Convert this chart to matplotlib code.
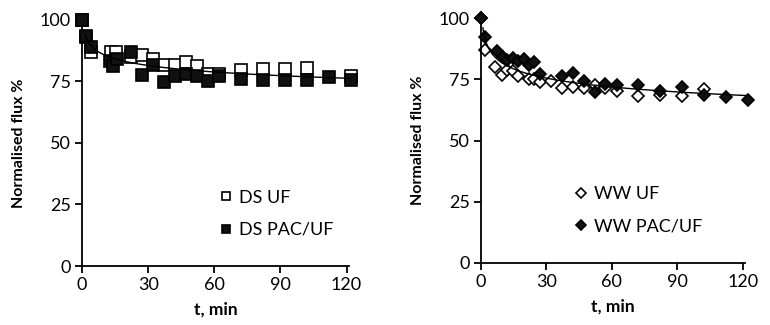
import numpy as np
import matplotlib.pyplot as plt

plt.rcParams['font.family'] = ['Lato', 'DejaVu Sans']

# DS feed: time (min) and normalised flux (%)
ds_uf_t = [0, 2, 4, 13, 15.5, 22, 27, 32, 37, 42, 47, 52, 57, 62, 72, 82, 92, 102, 122]
ds_uf_y = [100, 93, 87, 87, 87, 84.8, 85.8, 84, 81.7, 81.7, 82.6, 81, 78, 78, 79.7, 80, 80, 80.4, 77.2]
ds_pac_t = [0, 2, 4, 12.5, 14, 16, 22, 27, 32, 37, 42, 47, 52, 57, 62, 72, 82, 92, 102, 112, 122]
ds_pac_y = [100, 93.5, 89, 83, 81, 84, 86.7, 77.6, 81.7, 74.6, 77, 78, 77, 75, 77.2, 75.9, 75.6, 75.6, 75.6, 76.7, 75.6]

# WW feed
ww_uf_t = [0, 2, 6.5, 9.6, 12, 14.6, 17.2, 22, 24.5, 27.3, 32.2, 37.2, 42.3, 47.5, 52.2, 57.1, 62.2, 72.2, 82.1, 92, 102.3]
ww_uf_y = [100, 87, 80, 76.7, 78.7, 78.5, 76.3, 75, 75, 74, 74.4, 71.7, 72, 71.7, 72.7, 71.7, 70.3, 68.2, 68.6, 68.2, 70.9]
ww_pac_t = [0, 2, 7.3, 10, 12, 14.6, 17.2, 20, 22, 24.5, 27.3, 37.2, 42.3, 47.5, 52.2, 57.1, 62.2, 72.2, 82.1, 92, 102.3, 112.3, 122.3]
ww_pac_y = [100, 92.3, 86.8, 84.2, 82.8, 83.8, 82.4, 83.4, 80.7, 82, 77.4, 76.3, 77.7, 74.4, 70, 73.1, 72.7, 72.7, 70.3, 72, 68.6, 67.7, 66.5]

xticks = [0, 30, 60, 90, 120]
yticks = [0, 25, 50, 75, 100]


def power_trend(ax, ts, ys, t_start=1.0):
    """Power-law trendline (y = a*t^b) through all points with t > 0."""
    t = np.concatenate([np.asarray(a, float) for a in ts])
    y = np.concatenate([np.asarray(a, float) for a in ys])
    keep = t > 0
    b, loga = np.polyfit(np.log(t[keep]), np.log(y[keep]), 1)
    tt = np.linspace(t_start, t.max(), 300)
    ax.plot(tt, np.exp(loga) * tt ** b, color='black', lw=1.0, zorder=4, clip_on=False)


def style_axes(ax):
    ax.set_xlim(0, 121)
    ax.set_ylim(0, 100)
    ax.set_xticks(xticks)
    ax.set_yticks(yticks)
    for s in ['top', 'right']:
        ax.spines[s].set_visible(False)
    for s in ['left', 'bottom']:
        ax.spines[s].set_linewidth(1.3)
    ax.tick_params(direction='out', length=5, width=1.3, labelsize=13, pad=3)
    ax.set_xlabel('t, min', fontsize=12.5, fontweight='bold', labelpad=6)
    ax.set_ylabel('Normalised flux %', fontsize=11.5, fontweight='bold', labelpad=10)


fig = plt.figure(figsize=(7.7, 3.25), dpi=100)
ax1 = fig.add_axes([0.1065, 0.1815, 0.3464, 0.7585])
ax2 = fig.add_axes([0.6243, 0.1908, 0.3432, 0.7530])

mk = dict(ls='none', mec='black', mew=1.2, clip_on=False)

ax1.plot(ds_uf_t, ds_uf_y, marker='s', ms=8, mfc='white', label='DS UF', zorder=2, **mk)
ax1.plot(ds_pac_t, ds_pac_y, marker='s', ms=8, mfc='#111111', label='DS PAC/UF', zorder=3, **mk)
power_trend(ax1, [ds_uf_t, ds_pac_t], [ds_uf_y, ds_pac_y], t_start=1.5)

ax2.plot(ww_uf_t, ww_uf_y, marker='D', ms=6.2, mfc='white', label='WW UF', zorder=2, **mk)
ax2.plot(ww_pac_t, ww_pac_y, marker='D', ms=6.2, mfc='#111111', label='WW PAC/UF', zorder=3, **mk)
power_trend(ax2, [ww_uf_t, ww_pac_t], [ww_uf_y, ww_pac_y], t_start=1.0)

for ax in (ax1, ax2):
    style_axes(ax)

leg_kw = dict(frameon=False, fontsize=13, handlelength=0.6, handletextpad=0.4,
              labelspacing=0.9, borderpad=0, borderaxespad=0, loc='upper left',
              markerscale=0.8)
ax1.legend(bbox_to_anchor=(0.52, 0.31), **leg_kw)
ax2.legend(bbox_to_anchor=(0.36, 0.315), **leg_kw)

fig.savefig('out.png', dpi=100)
